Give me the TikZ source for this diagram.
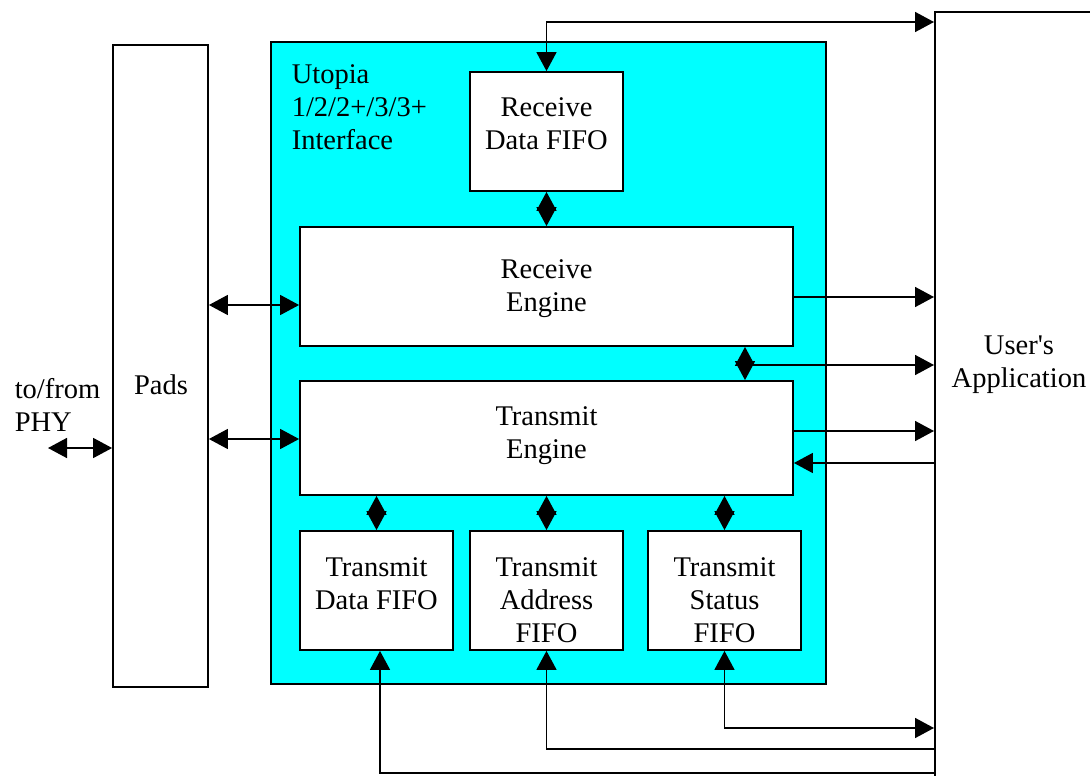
\documentclass[tikz,border=0pt]{standalone}
\usepackage{fontspec}
\setmainfont{Liberation Serif}
\usetikzlibrary{arrows.meta}
\definecolor{aqua}{RGB}{0,255,255}

\tikzset{
  blk/.style={draw, line width=1.8pt, fill=white, inner sep=0pt},
  fifo/.style={blk, minimum width=153, minimum height=119},
  engine/.style={blk, minimum width=493},
  txt/.style={align=center, inner sep=0pt, font=\fontsize{28.5}{33}\selectfont},
}

\begin{document}
\begin{tikzpicture}[x=1pt,y=-1pt,>={Triangle[length=19pt,width=20pt]},line width=1.6pt]
\useasboundingbox (0,0) rectangle (1090,776);
\clip (0,0) rectangle (1090,776);

% Pads and user side
\node[blk, minimum width=95, minimum height=642] (pads) at (160.5,366) {};
\node[txt] (padstxt) at (161,385) {Pads};
\node[blk, anchor=north west, minimum width=300, minimum height=900] (app) at (934,11) {};
\node[txt] (apptxt) at (1019,364.5) {User\textquotesingle s\\Application};
\node[txt, align=left, anchor=west] (phytxt) at (14,405) {to/from\\PHY};

% Utopia block
\node[blk, fill=aqua, minimum width=555, minimum height=642] (utopia) at (548.5,363) {};
\node[txt, align=left, anchor=west] (utopiatxt) at (291,107) {Utopia\\1/2/2+/3/3+\\Interface};

% FIFOs and engines
\node[fifo] (rdf) at (546.5,131.5) {};
\node[txt] (rdftxt) at (546.5,123.5) {Receive\\Data FIFO};
\node[engine, minimum height=119] (re) at (546.5,286.5) {};
\node[txt] (retxt) at (546.5,289) {Receive\\Engine};
\node[engine, minimum height=114] (te) at (546.5,438) {};
\node[txt] (tetxt) at (546.5,435.5) {Transmit\\Engine};
\node[fifo] (tdf) at (376.5,590.5) {};
\node[txt] (tdftxt) at (376.5,583.5) {Transmit\\Data FIFO};
\node[fifo] (taf) at (546.5,590.5) {};
\node[txt] (taftxt) at (546.5,600) {Transmit\\Address\\FIFO};
\node[fifo] (tsf) at (724.5,590.5) {};
\node[txt] (tsftxt) at (724.5,600) {Transmit\\Status\\FIFO};

% Inner connections
\draw[<->] (rdf.south) -- (rdf.south |- re.north);
\coordinate (mid) at (745,365);
\draw[<->] (re.south -| mid) -- (te.north -| mid);
\draw[<->] (tdf.north) -- (tdf.north |- te.south);
\draw[<->] (taf.north) -- (taf.north |- te.south);
\draw[<->] (tsf.north) -- (tsf.north |- te.south);

% Pads side
\coordinate (phy) at (48,448);
\draw[<->] (phy) -- (phy -| pads.west);
\draw[<->] (pads.east |- 0,305) -- (re.west |- 0,305);
\draw[<->] (pads.east |- 0,439) -- (te.west |- 0,439);

% User side
\draw[<->] (rdf.north) |- (app.west |- 0,22);
\draw[->] (re.east |- 0,297) -- (app.west |- 0,297);
\draw[->] (mid) -- (mid -| app.west);
\draw[->] (te.east |- 0,431) -- (app.west |- 0,431);
\draw[->] (app.west |- 0,463) -- (te.east |- 0,463);
\draw[<->] (tsf.south) |- (app.west |- 0,728);
\draw[->] (app.west |- 0,749) -| (taf.south);
\draw[->] (app.west |- 0,773) -| ([xshift=3.5pt]tdf.south);

\end{tikzpicture}
\end{document}
